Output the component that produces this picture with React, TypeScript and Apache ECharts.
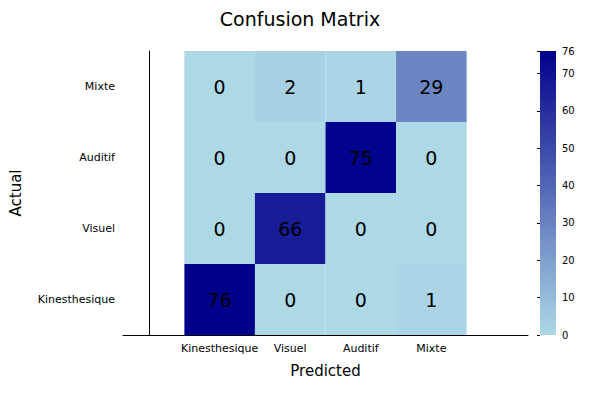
import React, { useEffect, useRef } from 'react';
import * as echarts from 'echarts';

const classes = ['Kinesthesique', 'Visuel', 'Auditif', 'Mixte'];
// rows = actual (bottom to top), cols = predicted
const matrix = [
  [76, 0, 0, 1],
  [0, 66, 0, 0],
  [0, 0, 75, 0],
  [0, 2, 1, 29],
];
const colorMax = 76;
const colorTicks = [0, 10, 20, 30, 40, 50, 60, 70];
const lightBlue = '#add8e6';
const darkBlue = '#00008b';
const font = 'DejaVu Sans';

const App = () => {
  const ref = useRef(null);

  useEffect(() => {
    if (!ref.current) return;
    const chart = echarts.init(ref.current, null, { renderer: 'svg' });

    const cells = [];
    matrix.forEach((row, r) => row.forEach((v, c) => cells.push([c + 1, r + 1, v])));

    chart.setOption({
      animation: false,
      textStyle: { fontFamily: font },
      title: {
        text: 'Confusion Matrix',
        left: 'center',
        top: 4,
        textStyle: { fontSize: 19, fontWeight: 'normal', color: '#000', fontFamily: font },
      },
      grid: [
        { left: 119, right: 72, top: 51, bottom: 65 },
        { left: 540, width: 16, top: 51, bottom: 65 },
      ],
      visualMap: {
        show: false,
        seriesIndex: 0,
        dimension: 2,
        min: 0,
        max: colorMax,
        inRange: { color: [lightBlue, darkBlue] },
      },
      xAxis: [
        {
          gridIndex: 0,
          type: 'value',
          min: -0.37,
          max: 5.37,
          name: 'Predicted',
          nameLocation: 'middle',
          nameGap: 28,
          nameTextStyle: { fontSize: 15, color: '#000' },
          axisLine: { lineStyle: { color: '#000' } },
          axisTick: { customValues: [1, 2, 3, 4], inside: true, length: 0 },
          axisLabel: {
            customValues: [1, 2, 3, 4],
            formatter: (v) => classes[Math.round(v) - 1] || '',
            color: '#000',
            fontSize: 11,
          },
          splitLine: { show: false },
        },
        {
          gridIndex: 1,
          type: 'value',
          min: 0,
          max: 1,
          show: false,
        },
      ],
      yAxis: [
        {
          gridIndex: 0,
          type: 'value',
          min: 0.5,
          max: 4.5,
          name: 'Actual',
          nameLocation: 'middle',
          nameGap: 100,
          nameTextStyle: { fontSize: 15, color: '#000' },
          axisLine: { show: true, lineStyle: { color: '#000' } },
          axisTick: { customValues: [1, 2, 3, 4], length: 0 },
          axisLabel: {
            customValues: [1, 2, 3, 4],
            formatter: (v) => classes[Math.round(v) - 1] || '',
            color: '#000',
            fontSize: 11,
          },
          splitLine: { show: false },
        },
        {
          gridIndex: 1,
          type: 'value',
          position: 'right',
          min: 0,
          max: colorMax,
          interval: 10,
          axisLine: { show: false },
          axisTick: { show: true, inside: true, length: 3, lineStyle: { color: '#000' } },
          axisLabel: { color: '#000', fontSize: 10, margin: 6 },
          splitLine: { show: false },
        },
      ],
      series: [
        {
          type: 'custom',
          xAxisIndex: 0,
          yAxisIndex: 0,
          data: cells,
          renderItem: (params, api) => {
            const x = api.value(0);
            const y = api.value(1);
            const p1 = api.coord([x - 0.5, y + 0.5]);
            const p2 = api.coord([x + 0.5, y - 0.5]);
            return {
              type: 'group',
              children: [
                {
                  type: 'rect',
                  shape: { x: p1[0], y: p1[1], width: p2[0] - p1[0], height: p2[1] - p1[1] },
                  style: { fill: api.visual('color') },
                },
                {
                  type: 'text',
                  style: {
                    x: (p1[0] + p2[0]) / 2,
                    y: (p1[1] + p2[1]) / 2,
                    text: String(api.value(2)),
                    fill: '#000',
                    fontSize: 19,
                    fontFamily: font,
                    align: 'center',
                    verticalAlign: 'middle',
                  },
                },
              ],
            };
          },
        },
        {
          type: 'custom',
          xAxisIndex: 1,
          yAxisIndex: 1,
          data: [[colorMax]],
          renderItem: (params, api) => {
            const top = api.coord([0, colorMax]);
            const bot = api.coord([1, 0]);
            return {
              type: 'rect',
              shape: { x: top[0], y: top[1], width: bot[0] - top[0], height: bot[1] - top[1] },
              style: {
                fill: new echarts.graphic.LinearGradient(0, 0, 0, 1, [
                  { offset: 0, color: darkBlue },
                  { offset: 1, color: lightBlue },
                ]),
              },
            };
          },
        },
      ],
    });

    return () => chart.dispose();
  }, []);

  return <div ref={ref} style={{ width: 600, height: 400, margin: -8 }} />;
};

export default App;
